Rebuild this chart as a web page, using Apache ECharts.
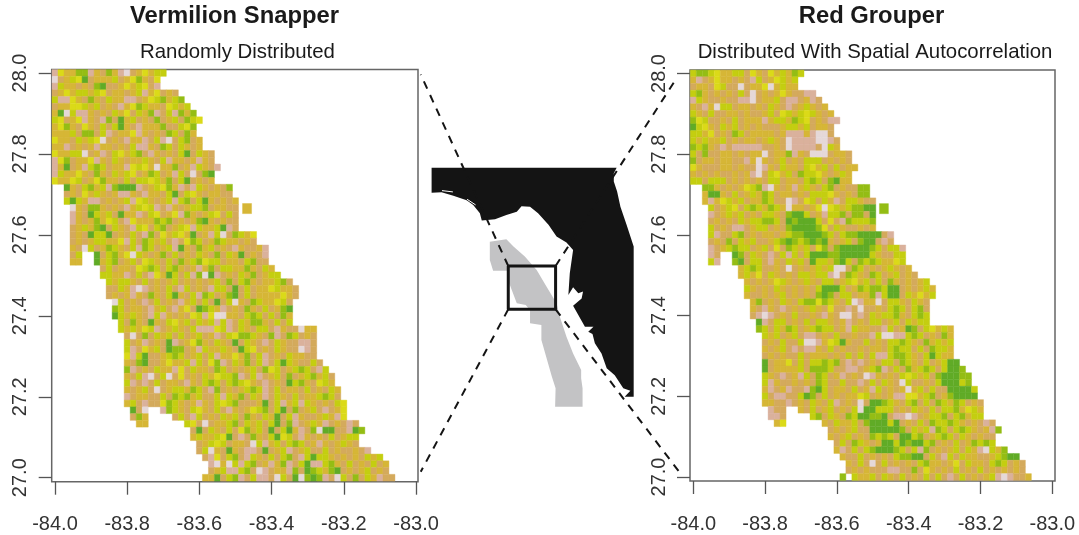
<!DOCTYPE html>
<html>
<head>
<meta charset="utf-8">
<style>html,body{margin:0;padding:0;background:#fff}#c{width:1079px;height:535px;filter:blur(0.55px)}</style>
<script src="https://cdn.jsdelivr.net/npm/echarts@6/dist/echarts.min.js"></script>
</head>
<body>
<div id="c"></div>
<script>
const xTicks = [-84.0, -83.8, -83.6, -83.4, -83.2, -83.0];
const yTicks = [27.0, 27.2, 27.4, 27.6, 27.8, 28.0];
const classColors = {a:'#60ab26',b:'#94bd14',c:'#c4ce10',d:'#dbda18',e:'#d6b636',f:'#d4aa5c',g:'#dab19c',h:'#e5d8d8'};
// first column of each 1-arc-minute row, from 28.0 N southward
const rowStart = [0,0,0,0,0,0,0,0,0,0,0,0,0,0,0,0,0,2,2,2,3,3,3,3,3,3,3,3,3,8,8,9,9,9,10,10,10,11,11,12,12,12,12,12,12,12,12,12,12,12,13,13,14,23,23,24,24,25,26,26,25];
const vermilionRows = [
"gdeeb bgefb eghfe decc","hfecd afeee cfedb efd","gceef efbaf fedec dfg","fedec cecdf eefec gedfe f",
"cggde fbefc eeggf edcbe cb","feedd cecfe fgedb ceefd cec","eahcg gefef cedfc ebgfc gbeb","cdfed gefgb faecf efbfe cfbcd",
"edbef defcf caefg eeebf fcdb","eeecf bbfcg feedg efefb cfbe","deefc ecdhf efgee gfcgh fcbfe","eegfe fegee fefcg gefbc fcefe",
"deecc hfegf cdecb fgefe fcafc ef","gdbfe edgef cefee cefcg eefeg ef","geafe gcbcf eegdc dehee bfegc efg","gceed efbef cecdf ebcfe gcfhf ba",
"deedc fedbe efcfc cdceb fcafe fe","aefcb ecgba aagfe cdbeg fgcef efb","fefde cefeg gefge efcaf cdefe eff","caceg gfefe cgdce fecgc bfcae fefe",
"hefbb efefg ecdcg fgefe ccbfe eff","gefac ecfae egfcd fedgb efecd fcf","gefeb edcfg deeeb cbfef ebaef eff","feceb afcef gcdfc bfecd gceec agf",
"fefac cafef cfgbf decde afegc hfbce d","fefec ceedg cfbce cfgfd bcfeb ceefe f","efhcf ebcef cgbcf ecgae fbecf efgef feg","fc..a fcbed hcefe bfcfe fcefb fceaf efg",
"ee..a ecbfe cfdce fcfbe cbdcc feefc bff","fcfee fdcbc fcbef egebf cceeb efce","cceeg fcfgd eacfc gbhag fefce bfecc","cecce fcfef ecfef efecf bfcbe feecb f",
"ffceg hgfef cfgcf efgcc fafcf eedce ef","fefeg efbef caefc gbcfe bafcf eeeed ef","hcfef gfcfe fgecf cfafc hefbc eedcf","bcfee fgecf gedfa bcegf efbef cfeba",
"acece fgcge fefdc gdhhe efcbc fcfbe","cfbef aefcd ecfce cgcgf cebbe fcfc","ceced cgfec efcgg gdcgf cefcc fgeff hee","fhfbf cecfc fecfe gfcdb bcefb gfbcf ef",
"cfegf efagf edbef cefaf cefgf ceffg gf","cgfde cfabb fegce ecefa cdfef ceffh gf","dgcaf fecbc fecfc geede bfcgf efcee ff","efbaf fedee cgcfd bgfce bfcgf cacef fcf",
"bgfef ceegd fceef bcfef ecfbd cfecb cfgc","efcgh fchfd fefce dccbg fcgfe cfbfe cbecf","cgfgf cfeef gefcb cfcbc defgf efacb efdce","efecf hfecc ebcfg bfefe cbcgf cfeef cfefc e",
"gfeef fcfbc becff cgceb fcegf cefcf eecbc f","ecfgf fdbce fegef cdcbf ffeaf cgecg cefef cd","afh.. gbcef cdefc fgefe dcbfc afbfe cfgfe d","fbe.. ..fcf gcfef cecfb efcea fcgef feceg d",
"ee... ...cd fhfee cbfce cfcaf bgfec egfef gf","fafce fcfdb ecfaf caegf bhaaf fgab","eceec dafgf befca dcfge fefcf ecc","fecdc feefh cgecf cbcfe gefec ef",
"fchef aefgg fafec gfecf fcfef fefg","fgdfc bfgce fcfcb fgcac cefef efcec","ghehc gcbfe gebgf caggc befcf efcfe","fecgg cbfhg feegb fabce bafef ecfef",
"eeafc bgfcg gfhcf ahbab gfhcf bfceg ff"];
const grouperRows = [
"cbbcd eeccf defde cebc","egfed eefef gcfed cec","feefd cffhf eedhe cee","cbefe fefcf hfefe deffg g",
"gceff effgg hfeec fggfe gf","efgeh ccfee fefce fgfec efe","cefcf feefe ffecf dcecd cefe","bdcff efcfe eegec cebcd fefgg",
"acdef cecfe fefff eccec feef","ccedf efbcf eeeef eggge ghhf","cecee cfefe efece fhggg ghhgf","bcbef gfggg ggffe fhggg gfhce",
"cfbff eefef eehfe ebgef hhhfe ef","bfeef eeffg ehefe cfefc ccfef ef","defff eefef fhgef ceefc decfc fee","efefe ffefe ghfcd ecfbc cdefe ce",
"ccfcc cfefe fefcc feefc bcfba ee","bbefe fedcb ghefe gecef cbfef fbb","eaaef cfece bcfee fefcc cdefe fbb","egedc ecfee bcffh gfdcf cegfc ceff",
"cfecd fcbce bcehe efedh dcecb baa","gfece cfefc cefba acfeg ccbfb bfa","fefef ceccb bcfab aaacf dfgbc ccb","cfefg gfecc fefba aaabd fceff efe",
"cgffc bfefe efecb baaab cfcbb aaaaf g","fefbf cecff ecbab cbaba efecf baafg f","gfecb ccfec fdfbc ecfdb fbaaa aabcf ccg","gf..a bfcef gfcgc fcaaa bbaaa aacef fcc",
"cg..b afccf gefce cfacc ebacf bcbce edc","ecbcf fefhf efece chhfb cfefe cefe","ecedf cefef ccecc ghfbc efbcf ecfef","efefe dcefe cefcc fecde cfcfb efefe c",
"cefef cefef efcaa acfeb cbbca afefe ce","effef ecfef efbab fccfe ebgca afced ec","ebfef cefcb bdbce fchge ehfcc efcef","efgef gfefe cefdf fgfhf fefcb cfcbf",
"fghgf efcff efgef hhfgf ceccb efcbc","agfcc fefcf ccefe gfefc cfecf cecc","bcfce bcfec bccfe gceef fgcfe abfcd ece","cecfe cfggf efcff effgc hhggc bcfef be",
"fefcf fchhg edcae ffcfe fccbc efbec ec","efecf gfgge fcfef fefee fcbcc fcfbc ce","fefef fcfee efefc fcfcg gcbbc efcac ee","afeed fcfcc bcbfg fgfef ccfbc efcfe caa",
"afeee ecfbb bcffg gfecb gfcfb ecbcf caab","cefgf egcfb cfegf efhge fefcd cecfb aaabb","cgeff efefb cffcf fgfcf cefhc ffefc aaacb","egfeg ffgba cfeef cfegc fefeh ecfcf faaaa c",
"cfggf fcabf cfefe edcfe feggd decbf ebaaa a","eeffg fefce fcgfe fhfaa bcefc bfcfb cebcf ef","gff.. efcfe cfefc haacc cfefc efcfc cbedc e","ggf.. ..cbf cefbc aabba fgghg fecc bfcbe cc",
"ed... ...ef ceecf baaac afefc fbccb cefef gf","fefec ffaaa aabfc ecgbc fcbce fegb","efecf efbcb cfaac bfecb cfcef eff","fcfbc efeaa cabaa cbfef cfebc bc",
"egfcf cbaaa bcfcg bfefe cfceg hceb","effcf efefc bbaaf cfgcf ceeff ecbaa","efcfh fcfef efcbe efedf ceefc bcfef","fefef ffggf fbfde fefcf efcfe fefef",
"b.cee cfcef cfefc fcfgf cfefe cghgf fe"];
// the detached block off the main band in each panel (longitude, latitude, class)
const vermilionDetached = [-83.468, 27.665, 'e'];
const grouperDetached = [-83.469, 27.665, 'b'];
// inset map outlines, longitude / latitude in the inset's scale
const floridaOutline = [[-85.62,30.27],[-81.71,30.27],[-81.77,30.14],[-81.77,29.95],[-81.70,29.72],[-81.63,29.37],[-81.50,28.95],[-81.35,28.45],[-81.35,24.98],[-81.54,24.98],[-81.42,25.12],[-81.57,25.18],[-81.75,25.48],[-81.92,25.64],[-82.03,25.98],[-82.17,26.22],[-82.22,26.43],[-82.31,26.48],[-82.20,26.60],[-82.38,26.60],[-82.52,26.87],[-82.63,27.08],[-82.45,27.25],[-82.42,27.41],[-82.52,27.37],[-82.63,27.51],[-82.73,27.33],[-82.70,27.83],[-82.63,28.37],[-82.77,28.54],[-82.98,28.68],[-83.15,28.95],[-83.37,29.22],[-83.54,29.37],[-83.72,29.38],[-83.82,29.25],[-84.04,29.18],[-84.28,29.08],[-84.56,29.05],[-84.60,29.22],[-84.74,29.41],[-84.88,29.52],[-85.16,29.62],[-85.41,29.70],[-85.62,29.69]];
const surveyOutline = [[-84.39,28.56],[-84.04,28.62],[-83.89,28.45],[-83.65,28.22],[-83.40,27.91],[-83.19,27.52],[-82.98,27.14],[-82.91,26.83],[-82.77,26.37],[-82.63,25.98],[-82.46,25.60],[-82.46,25.41],[-82.43,25.18],[-82.43,24.75],[-83.01,24.75],[-83.00,25.18],[-83.08,25.45],[-83.19,25.87],[-83.30,26.29],[-83.30,26.64],[-83.54,26.68],[-83.54,26.98],[-83.63,27.10],[-83.82,27.14],[-83.98,27.60],[-83.99,27.89],[-84.32,27.89],[-84.39,28.14]];
const coastalInlets = [[[-85.40,29.74],[-85.17,29.71]],[[-84.87,29.54],[-84.69,29.41]]];
const studySquare = [[-84,28],[-83,28],[-83,27],[-84,27],[-84,28]];
const connectors = [[[-84,28],[-85.85,32.42]],[[-84,27],[-85.85,23.25]],[[-83,28],[-80.44,32.34]],[[-83,27],[-80.34,23.18]]];

const CELL = 1/60;
const DETACHED_SPAN = 1.5;
function cells(rows,detached){
  const out=[];
  rows.forEach((s,r)=>{
    [...s.replace(/ /g,'')].forEach((ch,i)=>{
      if(ch!=='.') out.push([-84+(rowStart[r]+i)*CELL, 28-r*CELL, ch, 1]);
    });
  });
  out.push([detached[0],detached[1],detached[2],DETACHED_SPAN]);
  return out;
}
function cellItem(params,api){
  const lon=api.value(0), lat=api.value(1), half=CELL/2*api.value(3);
  const p0=api.coord([lon-half,lat+half]), p1=api.coord([lon+half,lat-half]);
  const col=classColors[api.value(2)];
  return {type:'rect',shape:{x:p0[0],y:p0[1],width:p1[0]-p0[0],height:p1[1]-p0[1]},style:{fill:col,stroke:col,lineWidth:0.4}};
}
function polygonSeries(pts,color){
  return {type:'custom',xAxisIndex:2,yAxisIndex:2,silent:true,clip:false,data:pts,encode:{x:0,y:1},
    renderItem(params,api){
      if(params.dataIndex!==0) return null;
      return {type:'polygon',shape:{points:pts.map(p=>api.coord(p))},style:{fill:color}};
    }};
}
function tickAxis(min,max,ticks,gridIndex,extra){
  return Object.assign({type:'value',gridIndex,min,max,splitLine:{show:false},axisLine:{show:false},
    axisTick:{show:true,length:13,customValues:ticks,lineStyle:{color:'#555',width:1.3}},
    },extra);
}
const labelBase={color:'#333',fontSize:20,fontFamily:'Liberation Sans',formatter:v=>Number(v).toFixed(1)};
const xAx=(min,max,g)=>tickAxis(min,max,xTicks,g,{axisLabel:Object.assign({},labelBase,{customValues:xTicks,margin:33})});
const yAx=(min,max,g)=>tickAxis(min,max,yTicks,g,{axisLabel:Object.assign({},labelBase,{customValues:yTicks,rotate:90,margin:21})});
const titleFont={fontFamily:'Liberation Sans',color:'#1a1a1a'};
const option={
  animation:false,backgroundColor:'#fff',
  title:[
    {text:'Vermilion Snapper',left:234.5,top:4,padding:0,textAlign:'center',textStyle:Object.assign({fontSize:23.8,fontWeight:'bold'},titleFont)},
    {text:'Randomly Distributed',left:237.5,top:42,padding:0,textAlign:'center',textStyle:Object.assign({fontSize:20.4,fontWeight:'normal'},titleFont)},
    {text:'Red Grouper',left:871.5,top:4,padding:0,textAlign:'center',textStyle:Object.assign({fontSize:23.8,fontWeight:'bold'},titleFont)},
    {text:'Distributed With Spatial Autocorrelation',left:875,top:42,padding:0,textAlign:'center',textStyle:Object.assign({fontSize:20.4,fontWeight:'normal'},titleFont)}
  ],
  grid:[
    {left:51.7,top:69.5,width:366.3,height:412.2,show:true,borderColor:'#666',borderWidth:1.5,backgroundColor:'transparent'},
    {left:690,top:70,width:365,height:411,show:true,borderColor:'#666',borderWidth:1.5,backgroundColor:'transparent'},
    {left:0,top:0,right:0,bottom:0}
  ],
  xAxis:[xAx(-84.0091,-82.9945,0),xAx(-84.0092,-82.9925,1),{type:'value',gridIndex:2,show:false,min:-94.74,max:-71.94}],
  yAxis:[yAx(26.9901,28.0086,0),yAx(26.9901,28.0086,1),{type:'value',gridIndex:2,show:false,min:21.792,max:34.139}],
  series:[
    {type:'custom',xAxisIndex:0,yAxisIndex:0,silent:true,clip:false,progressive:0,data:cells(vermilionRows,vermilionDetached),encode:{x:0,y:1},renderItem:cellItem},
    {type:'custom',xAxisIndex:1,yAxisIndex:1,silent:true,clip:false,progressive:0,data:cells(grouperRows,grouperDetached),encode:{x:0,y:1},renderItem:cellItem},
    polygonSeries(floridaOutline,'#141414'),
    polygonSeries(surveyOutline,'#c3c3c5'),
    ...coastalInlets.map(pts=>({type:'line',xAxisIndex:2,yAxisIndex:2,silent:true,symbol:'none',data:pts,z:3,
      lineStyle:{color:'#fff',width:1}})),
    ...connectors.map(pts=>({type:'line',xAxisIndex:2,yAxisIndex:2,silent:true,symbol:'none',data:pts,z:3,
      lineStyle:{color:'#141414',width:2,type:[8,7]}})),
    {type:'line',xAxisIndex:2,yAxisIndex:2,silent:true,symbol:'none',data:studySquare,z:4,lineStyle:{color:'#141414',width:3}}
  ]
};
echarts.init(document.getElementById('c'),null,{renderer:'canvas'}).setOption(option);
</script>
</body>
</html>
